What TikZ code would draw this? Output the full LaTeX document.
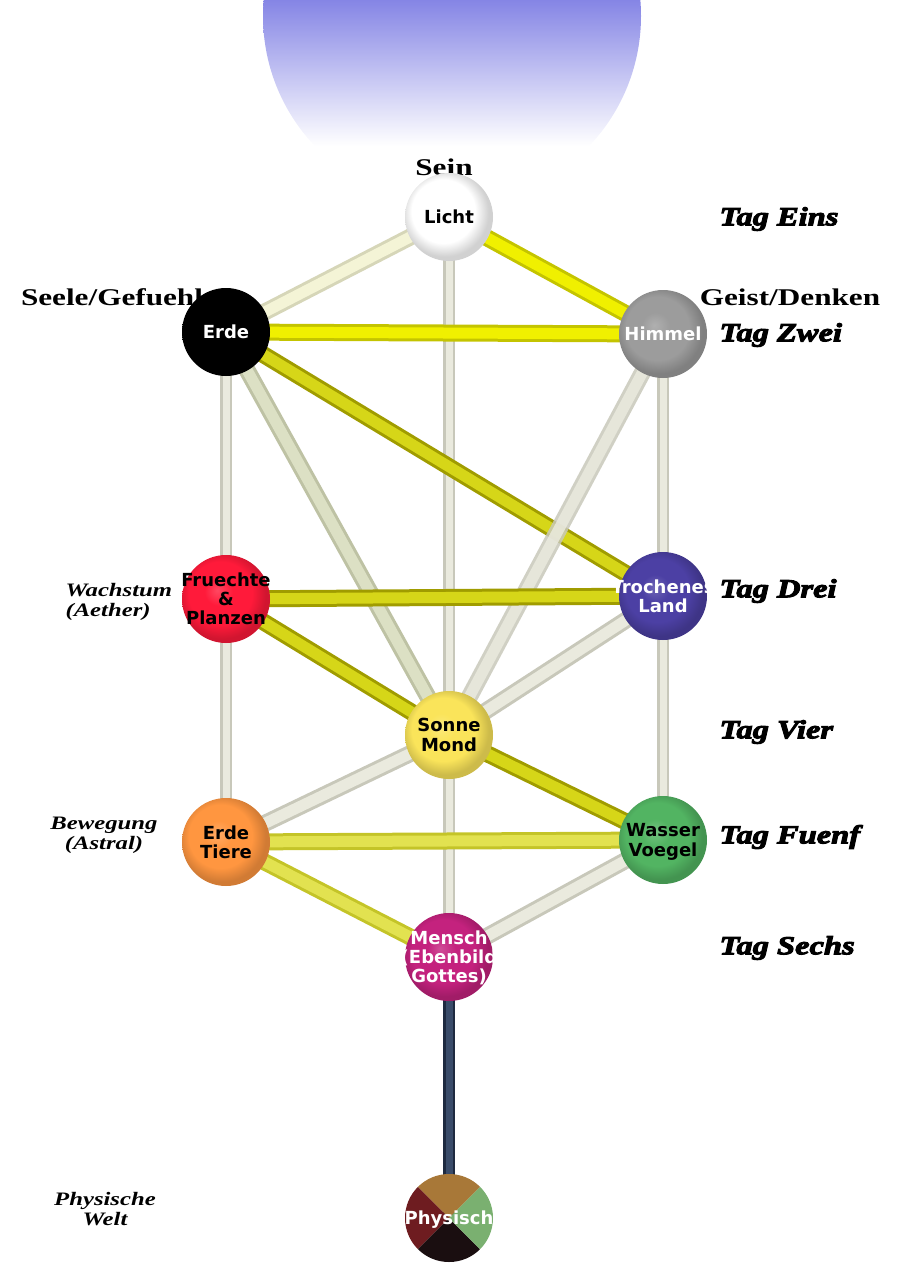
\documentclass[tikz,border=0pt]{standalone}
\usepackage{fontspec}
\usepackage{tikz}
\usetikzlibrary{calc}
\newfontfamily\orbfont{DejaVu Sans}
\newfontfamily\widefont[FakeStretch=1.3]{Liberation Serif}
\newfontfamily\tagfont[FakeStretch=1.25, BoldItalicFeatures={FakeBold=4}]{Liberation Serif}
\definecolor{skyblue}{RGB}{133,133,229}
\definecolor{tubeY}{RGB}{240,240,0}
\definecolor{tubeYd}{RGB}{196,196,0}
\definecolor{tubeO}{RGB}{214,214,24}
\definecolor{tubeOd}{RGB}{160,156,0}
\definecolor{tubeL}{RGB}{226,226,80}
\definecolor{tubeLd}{RGB}{196,196,40}
\definecolor{tubeP}{RGB}{234,234,222}
\definecolor{tubePd}{RGB}{200,200,186}
\definecolor{tubeC}{RGB}{244,244,214}
\definecolor{tubeCd}{RGB}{214,214,184}
\definecolor{tubeG}{RGB}{220,224,196}
\definecolor{tubeGd}{RGB}{190,194,164}
\definecolor{tubeN}{RGB}{58,76,106}
\definecolor{tubeNd}{RGB}{30,42,64}
\definecolor{orbRed}{RGB}{255,26,58}
\definecolor{orbViolet}{RGB}{76,64,164}
\definecolor{orbSun}{RGB}{250,228,90}
\definecolor{orbOrange}{RGB}{255,150,64}
\definecolor{orbGreen}{RGB}{82,180,98}
\definecolor{orbMagenta}{RGB}{196,34,126}
\definecolor{orbGrey}{RGB}{156,156,156}
\definecolor{physTop}{RGB}{168,120,56}
\definecolor{physLeft}{RGB}{110,28,32}
\definecolor{physBottom}{RGB}{26,14,16}
\definecolor{physRight}{RGB}{122,176,112}
\colorlet{orbcol}{white}
\pgfdeclareradialshading[orbcol]{orbshade}{\pgfpoint{-5bp}{5bp}}{%
  color(0bp)=(orbcol!80!white); color(8bp)=(orbcol); color(18bp)=(orbcol);
  color(25bp)=(orbcol!82!black); color(50bp)=(orbcol!82!black)}
\newcommand{\orbtext}[1]{\smash{\raisebox{-7pt}{\makebox[0pt]{\begin{tabular}{@{}c@{}}#1\end{tabular}}}}}

\begin{document}
\begin{tikzpicture}[
  x=1pt, y=-1pt,
  orb/.style={circle, minimum size=88pt, inner sep=0pt,
              /utils/exec={\colorlet{orbcol}{#1}}, shading=orbshade,
              font=\orbfont\bfseries\fontsize{18}{18.5}\selectfont},
  tube/.style 2 args={draw=#2, double=#1, line width=3pt, double distance=11pt},
  thin tube/.style 2 args={draw=#2, double=#1, line width=2.5pt, double distance=7pt},
  side/.style={font=\widefont\bfseries\fontsize{24}{26}\selectfont},
  daytag/.style={anchor=west, font=\tagfont\bfseries\itshape\fontsize{26}{28}\selectfont},
  world/.style={align=center, font=\widefont\bfseries\itshape\fontsize{19}{20}\selectfont}
]
  \useasboundingbox (0,0) rectangle (900,1264);

  % light from above
  \begin{scope}
    \clip (452,16) circle[radius=189];
    \shade[top color=skyblue, bottom color=white] (262,0) rectangle (642,146);
  \end{scope}

  % labels
  \node[side] (sein)  at (444,167) {Sein};
  \node[side] (seele) at (112,297) {Seele/Gefuehl};
  \node[side] (geist) at (790,297) {Geist/Denken};
  \node[daytag] (tag1) at (716,219) {Tag Eins};
  \node[daytag] (tag2) at (716,335) {Tag Zwei};
  \node[daytag] (tag3) at (716,591) {Tag Drei};
  \node[daytag] (tag4) at (716,732) {Tag Vier};
  \node[daytag] (tag5) at (716,837) {Tag Fuenf};
  \node[daytag] (tag6) at (716,948) {Tag Sechs};
  \node[world, align=left, anchor=west] (wachs) at (62,602) {Wachstum\\(Aether)};
  \node[world] (beweg) at (104,835) {Bewegung\\(Astral)};
  \node[world] (welt)  at (105,1209) {Physische\\Welt};

  % coordinates of the orbs
  \coordinate (cLicht) at (449,217);
  \coordinate (cErde)  at (226,332);
  \coordinate (cHimm)  at (663,334);
  \coordinate (cFru)   at (226,599);
  \coordinate (cLand)  at (663,596);
  \coordinate (cSonne) at (449,735);
  \coordinate (cTiere) at (226,842);
  \coordinate (cWass)  at (663,840);
  \coordinate (cMensch) at (449,957);
  \coordinate (cPhys)  at (449,1218);

  % paths
  \draw[thin tube={tubeP}{tubePd}] (cLicht) -- (cMensch);
  \draw[thin tube={tubeP}{tubePd}] (cErde) -- (cTiere);
  \draw[thin tube={tubeP}{tubePd}] (cHimm) -- (cWass);
  \draw[tube={tubeC}{tubeCd}] (cLicht) -- (cErde);
  \draw[tube={tubeY}{tubeYd}] (cLicht) -- (cHimm);
  \draw[tube={tubeY}{tubeYd}] (cErde) -- (cHimm);
  \draw[tube={tubeO}{tubeOd}] (cErde) -- (cLand);
  \draw[tube={tubeG}{tubeGd}] (cErde) -- (cSonne);
  \draw[tube={tubeP}{tubePd}, opacity=0.85] (cHimm) -- (cSonne);
  \draw[tube={tubeO}{tubeOd}] (cFru) -- (cLand);
  \draw[tube={tubeO}{tubeOd}] (cFru) -- (cSonne);
  \draw[tube={tubeP}{tubePd}] (cLand) -- (cSonne);
  \draw[tube={tubeP}{tubePd}] (cSonne) -- (cTiere);
  \draw[tube={tubeO}{tubeOd}] (cSonne) -- (cWass);
  \draw[tube={tubeL}{tubeLd}] (cTiere) -- (cWass);
  \draw[tube={tubeL}{tubeLd}] (cTiere) -- (cMensch);
  \draw[tube={tubeP}{tubePd}] (cWass) -- (cMensch);
  \draw[thin tube={tubeN}{tubeNd}] (cMensch) -- (cPhys);

  % orbs
  \node[orb=white] (licht) at (cLicht) {\orbtext{Licht}};
  \node[orb=black, shading=radial, inner color=black, outer color=black,
        text=white] (erde) at (cErde) {\orbtext{Erde}};
  \node[orb=orbGrey, text=white] (himmel) at (cHimm) {\orbtext{Himmel}};
  \node[orb=orbRed] (fruechte) at (cFru) {\orbtext{Fruechte\\\&\\Planzen}};
  \node[orb=orbViolet, text=white] (land) at (cLand) {\orbtext{Trochenes\\Land}};
  \node[orb=orbSun] (sonne) at (cSonne) {\orbtext{Sonne\\Mond}};
  \node[orb=orbOrange] (tiere) at (cTiere) {\orbtext{Erde\\Tiere}};
  \node[orb=orbGreen] (wasser) at (cWass) {\orbtext{Wasser\\Voegel}};
  \node[orb=orbMagenta, text=white] (mensch) at (cMensch) {\orbtext{Mensch\\(Ebenbild\\Gottes)}};
  \node[circle, minimum size=88pt, inner sep=0pt, text=white,
        font=\orbfont\bfseries\fontsize{18}{18.5}\selectfont,
        path picture={
          \coordinate (pc) at (path picture bounding box.center);
          \fill[physTop]    (pc) -- ++(45:50pt)  arc[start angle=45,  end angle=135, radius=50pt] -- cycle;
          \fill[physLeft]   (pc) -- ++(135:50pt) arc[start angle=135, end angle=225, radius=50pt] -- cycle;
          \fill[physBottom] (pc) -- ++(225:50pt) arc[start angle=225, end angle=315, radius=50pt] -- cycle;
          \fill[physRight]  (pc) -- ++(315:50pt) arc[start angle=315, end angle=405, radius=50pt] -- cycle;
        }] (physisch) at (cPhys) {\orbtext{Physisch}};
\end{tikzpicture}
\end{document}
